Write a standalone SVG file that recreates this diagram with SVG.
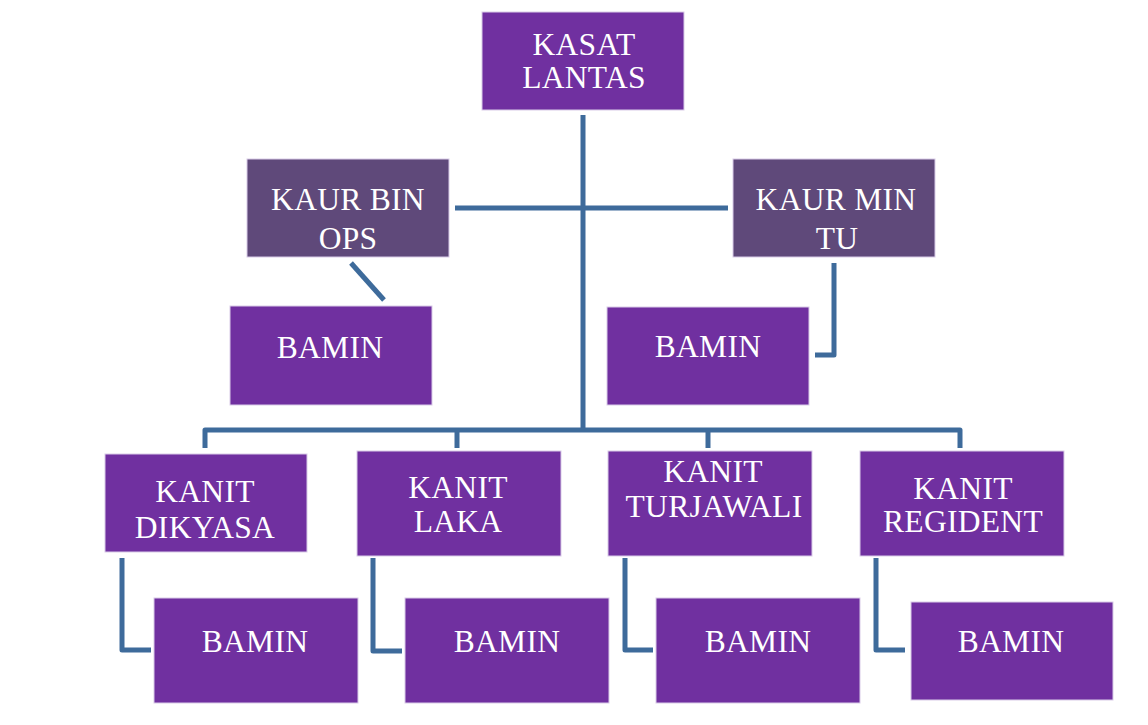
<svg xmlns="http://www.w3.org/2000/svg" width="1148" height="725" viewBox="0 0 1148 725">
<style>
.box{fill:#7030A0;stroke:#D9CCE8;stroke-width:1}
.dark{fill:#5F497A;stroke:#D9CCE8;stroke-width:1}
.t{font-family:"Liberation Serif","Times New Roman",serif;font-size:31.5px;letter-spacing:0.3px;fill:#FFFFFF;text-anchor:middle}
.c{fill:none;stroke:#3E6B9B;stroke-width:5;stroke-linejoin:round}
</style>
<rect width="1148" height="725" fill="#FFFFFF"/>
<g id="connectors">
<path class="c" d="M583,115 V430"/>
<path class="c" d="M455,208 H728"/>
<path class="c" d="M351,263 L384,300"/>
<path class="c" d="M834,263 V355 H815"/>
<path class="c" d="M205,448 V430 H960 V448"/>
<path class="c" d="M457,430 V448"/>
<path class="c" d="M708,430 V448"/>
<path class="c" d="M122,558 V650 H151"/>
<path class="c" d="M373,558 V651 H402"/>
<path class="c" d="M625,558 V650 H653"/>
<path class="c" d="M876,558 V650 H905"/>
</g>
<g id="kasat-lantas">
<rect class="box" x="482" y="12" width="202" height="98"/>
<text class="t" x="584" y="55">KASAT</text>
<text class="t" x="584" y="88">LANTAS</text>
</g>
<g id="kaur-bin-ops">
<rect class="dark" x="247" y="159" width="202" height="98"/>
<text class="t" x="348" y="210">KAUR BIN</text>
<text class="t" x="348" y="249">OPS</text>
</g>
<g id="kaur-min-tu">
<rect class="dark" x="733" y="159" width="202" height="98"/>
<text class="t" x="836" y="210">KAUR MIN</text>
<text class="t" x="837" y="249">TU</text>
</g>
<g id="bamin-binops">
<rect class="box" x="230" y="306" width="202" height="99"/>
<text class="t" x="330" y="358">BAMIN</text>
</g>
<g id="bamin-mintu">
<rect class="box" x="607" y="307" width="202" height="98"/>
<text class="t" x="708" y="357">BAMIN</text>
</g>
<g id="kanit-dikyasa">
<rect class="box" x="105" y="454" width="202" height="98"/>
<text class="t" x="205" y="502">KANIT</text>
<text class="t" x="205" y="538">DIKYASA</text>
</g>
<g id="kanit-laka">
<rect class="box" x="357" y="451" width="204" height="105"/>
<text class="t" x="458" y="498">KANIT</text>
<text class="t" x="458" y="532">LAKA</text>
</g>
<g id="kanit-turjawali">
<rect class="box" x="608" y="451" width="204" height="105"/>
<text class="t" x="713" y="482">KANIT</text>
<text class="t" x="714" y="517">TURJAWALI</text>
</g>
<g id="kanit-regident">
<rect class="box" x="860" y="451" width="204" height="105"/>
<text class="t" x="963" y="499">KANIT</text>
<text class="t" x="963" y="532">REGIDENT</text>
</g>
<g id="bamin-dikyasa">
<rect class="box" x="154" y="598" width="204" height="105"/>
<text class="t" x="255" y="652">BAMIN</text>
</g>
<g id="bamin-laka">
<rect class="box" x="405" y="598" width="204" height="105"/>
<text class="t" x="507" y="652">BAMIN</text>
</g>
<g id="bamin-turjawali">
<rect class="box" x="656" y="598" width="204" height="105"/>
<text class="t" x="758" y="652">BAMIN</text>
</g>
<g id="bamin-regident">
<rect class="box" x="911" y="602" width="202" height="98"/>
<text class="t" x="1011" y="652">BAMIN</text>
</g>
</svg>
